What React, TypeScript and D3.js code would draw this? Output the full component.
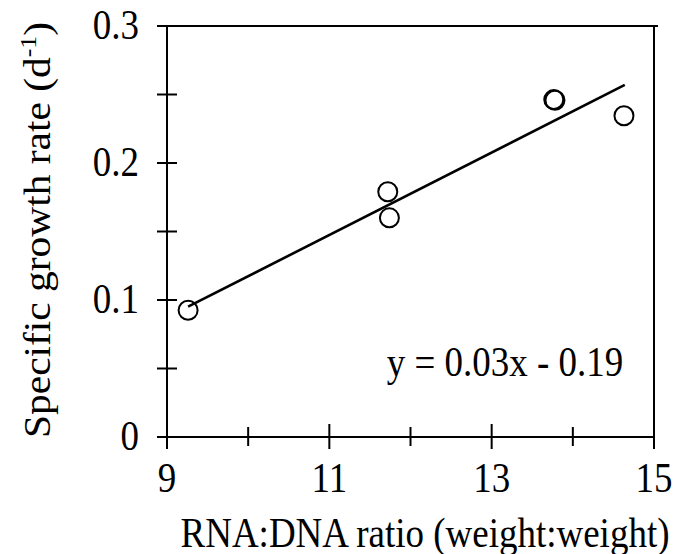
import React from 'react';
import * as d3 from 'd3';

// RNA:DNA ratio vs specific growth rate
const ratio = [9.26, 11.72, 11.74, 13.765, 13.78, 14.63];
const growth = [0.0925, 0.179, 0.16, 0.2463, 0.2458, 0.2345];

// regression line endpoints (as drawn)
const fitX = [9.26, 14.64];
const fitY = [0.0951, 0.257];

const xMajor = [9, 11, 13, 15];
const xMinor = [10, 12, 14];
const yTicks = [0, 0.05, 0.1, 0.15, 0.2, 0.25, 0.3];
const yLabels = [0, 0.1, 0.2, 0.3];

const W = 679;
const H = 554;
const FONT = '"Liberation Serif", "Times New Roman", serif';
const SY = 1.12; // the scanned figure is a bit taller than wide

const App = () => {
  const x = d3.scaleLinear().domain([9, 15]).range([167, 654]);
  const y = d3.scaleLinear().domain([0, 0.3]).range([437, 26]);

  const fitLine = d3.line<number>()
    .x((d) => x(d))
    .y((_, i) => y(fitY[i]));

  const x0 = x(9), x1 = x(15), y0 = y(0), y1 = y(0.3);

  const at = (tx: number, ty: number) => `translate(${tx},${ty}) scale(1,${SY})`;

  return (
    <svg width={W} height={H} style={{ position: 'absolute', left: 0, top: 0, background: '#fff' }}>
      <g stroke="#000" strokeWidth={2} fill="none">
        {/* frame */}
        <line x1={x0} y1={y1} x2={x0} y2={y0} />
        <line x1={x0 - 10} y1={y0} x2={x1} y2={y0} />
        <line x1={x0 - 10} y1={y1} x2={x1 + 4} y2={y1} />
        <line x1={x1} y1={y1} x2={x1} y2={y0} />
        {/* y ticks crossing the axis */}
        {yTicks.map((t) => (
          <line key={'y' + t} x1={x0 - 10} y1={y(t)} x2={x0 + 10} y2={y(t)} />
        ))}
        {/* x ticks */}
        {xMajor.map((t) => (
          <line key={'xM' + t} x1={x(t)} y1={y0 - 13} x2={x(t)} y2={y0 + 12} />
        ))}
        {xMinor.map((t) => (
          <line key={'xm' + t} x1={x(t)} y1={y0 - 10} x2={x(t)} y2={y0 + 9} />
        ))}
      </g>

      <path d={fitLine(fitX) || ''} stroke="#000" strokeWidth={2.6} fill="none" />

      {ratio.map((r, i) => (
        <circle key={i} cx={x(r)} cy={y(growth[i])} r={9.5}
          fill="none" stroke="#000" strokeWidth={2} />
      ))}

      <g fontFamily={FONT} fontSize={37} fill="#000">
        {yLabels.map((t) => (
          <text key={'yl' + t} transform={at(139, y(t) + 13)} textAnchor="end">
            {t === 0 ? '0' : t.toFixed(1)}
          </text>
        ))}
        {xMajor.map((t) => (
          <text key={'xl' + t} transform={at(x(t), 492)} textAnchor="middle">{t}</text>
        ))}
        <text transform={at(425, 547)} textAnchor="middle">RNA:DNA ratio (weight:weight)</text>
        <text transform={`${at(50, 230)} rotate(-90)`} textAnchor="middle">
          Specific growth rate (d<tspan fontSize={23} dy={-14}>-1</tspan><tspan dy={14}>)</tspan>
        </text>
        <text transform={at(505, 376)} textAnchor="middle">y = 0.03x - 0.19</text>
      </g>
    </svg>
  );
};

export default App;
